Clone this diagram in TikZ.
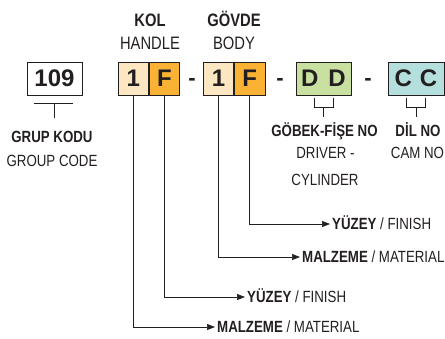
\documentclass[tikz,border=0pt]{standalone}
\usepackage{fontspec}
\setmainfont[FakeStretch=0.82]{Liberation Sans}
\newfontfamily\codefont{Liberation Sans}
\usetikzlibrary{positioning}
\usetikzlibrary{calc}
\usetikzlibrary{arrows.meta}
\definecolor{ink}{HTML}{231F20}
\definecolor{peach}{HTML}{FDE6C2}
\definecolor{amber}{HTML}{F9B233}
\definecolor{lime}{HTML}{C8E0A0}
\definecolor{aqua}{HTML}{B5DFDD}
\begin{document}
\begin{tikzpicture}[x=1pt,y=-1pt,color=ink,
    cell/.style={draw, line width=0.8pt, minimum width=30.5pt, minimum height=33pt, inner sep=0pt, font=\codefont\fontsize{24}{24}\selectfont\bfseries},
    hd/.style={inner sep=0pt, text height=12.9pt, text depth=0pt, font=\fontsize{18}{20}\selectfont\bfseries},
    hdl/.style={hd, font=\fontsize{18}{20}\selectfont},
    lbl/.style={inner sep=0pt, text height=11.6pt, text depth=0pt, font=\fontsize{16.2}{18}\selectfont},
    blbl/.style={lbl, font=\fontsize{16.2}{18}\selectfont\bfseries},
    sep/.style={inner sep=0pt, font=\codefont\fontsize{22}{22}\selectfont\bfseries},
    arr/.style={-{Triangle[length=8pt,width=6pt]}, line width=0.7pt},
    tie/.style={line width=0.7pt}]
        \useasboundingbox (0,0) rectangle (445,338);
        \node[cell, minimum width=55pt] (grp) at (54.5,78.5) {109};
        \node[cell, fill=peach] (k1) at (133.25,78.5) {1};
        \node[cell, fill=amber, right=0pt of k1] (kf) {F};
        \node[sep] (s1) at (192,82) {-};
        \node[cell, fill=peach] (g1) at (218.5,78.5) {1};
        \node[cell, fill=amber, right=0pt of g1] (gf) {F};
        \node[sep] (s2) at (280,82) {-};
        \node[cell, minimum width=55pt, fill=lime] (dd) at (323.5,78.5) {D\hspace{10pt}D};
        \node[sep] (s3) at (368,82) {-};
        \node[cell, minimum width=56pt, fill=aqua] (cc) at (416,78.5) {C\hspace{8pt}C};

        \node[hd] (kol) at (150,20) {KOL};
        \node[hdl] (hndl) at (150,43) {HANDLE};
        \node[hd] (gvd) at (234,20) {GÖVDE};
        \node[hdl] (body) at (234,43) {BODY};

        \node[blbl] (gk) at (52,137) {GRUP KODU};
        \node[lbl] (gc) at (52,161) {GROUP CODE};
        \node[blbl] (gb) at (324.5,131) {GÖBEK-FİŞE NO};
        \node[lbl] (drv) at (325.5,153) {DRIVER -};
        \node[lbl] (cyl) at (325,180) {CYLINDER};
        \node[blbl] (dl) at (418,131) {DİL NO};
        \node[lbl] (cm) at (417.5,153) {CAM NO};

        % brackets under the codes
        \coordinate (gl) at (34,103);
        \coordinate (gr) at (73,103);
        \coordinate (gt) at (54,118);
        \draw[tie] (gl) -- (gr);
        \draw[tie] (gt |- gl) -- (gt);
        \draw[tie] ($(dd.south)+(-9.5,3)$) -- ++(0,9) -| ($(dd.south)+(9.5,3)$);
        \draw[tie] ($(dd.south)+(0,12)$) -- ($(dd.south)+(0,22)$);
        \draw[tie] ($(cc.south)+(-9.5,3)$) -- ++(0,9) -| ($(cc.south)+(9.5,3)$);
        \draw[tie] ($(cc.south)+(0,12)$) -- ($(cc.south)+(0,22)$);

        \node[lbl, anchor=west, inner xsep=2pt] (yf2) at (330,224) {\textbf{YÜZEY} / FINISH};
        \node[lbl, anchor=west, inner xsep=2pt] (mz2) at (300,257) {\textbf{MALZEME} / MATERIAL};
        \node[lbl, anchor=west, inner xsep=2pt] (yf1) at (245,297) {\textbf{YÜZEY} / FINISH};
        \node[lbl, anchor=west, inner xsep=2pt] (mz1) at (215,327) {\textbf{MALZEME} / MATERIAL};

        \draw[arr] (gf) |- (yf2);
        \draw[arr] (g1) |- (mz2);
        \draw[arr] (kf) |- (yf1);
        \draw[arr] (k1) |- (mz1);
\end{tikzpicture}
\end{document}
